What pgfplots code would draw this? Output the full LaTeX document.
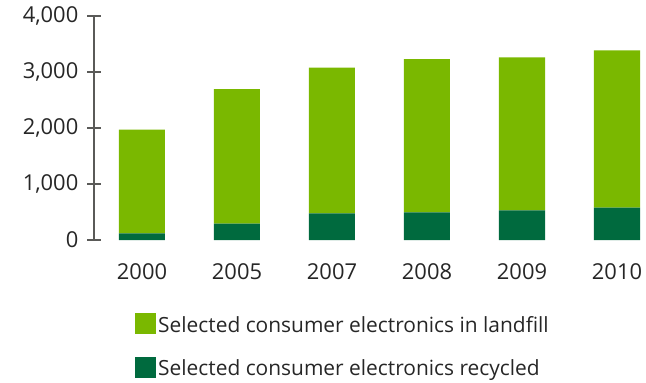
\documentclass[border=0pt]{standalone}
\usepackage{fontspec}
\setmainfont{Open Sans}
\usepackage{pgfplots}
\pgfplotsset{compat=1.18}
\definecolor{lightg}{HTML}{7AB800}
\definecolor{darkg}{HTML}{006A3E}
\definecolor{axisg}{HTML}{5A5A58}
\definecolor{txt}{HTML}{262626}
\begin{document}
\begin{tikzpicture}
\useasboundingbox (-94.5bp,-143bp) rectangle (551.5bp,240bp);
\begin{axis}[
  at={(0,0)}, anchor=south west,
  scale only axis, width=551bp, height=224bp,
  xmin=-0.5, xmax=5.3, ymin=0, ymax=4000,
  clip=false,
  ybar stacked, bar width=46bp,
  axis lines*=left,
  x axis line style={draw=none},
  y axis line style={draw=axisg, line width=2bp},
  xtick={0,1,2,3,4,5},
  xticklabels={2000,2005,2007,2008,2009,2010},
  xtick style={draw=none},
  ytick={0,1000,2000,3000,4000},
  ytick style={draw=axisg, line width=1.7bp},
  major tick length=14bp, tick align=center,
  scaled y ticks=false,
  /pgf/number format/assume math mode=true,
  /pgf/number format/1000 sep={,},
  tick label style={font=\fontsize{22}{26}\selectfont, text=txt},
  yticklabel style={anchor=east, inner sep=0pt, xshift=-9bp},
  xticklabel style={anchor=north, inner sep=0pt, yshift=-16bp},
  legend style={draw=none, fill=none, at={(0.0735,-0.3259)}, anchor=north west,
    inner sep=0pt, column sep=2bp, row sep=22.5bp,
    nodes={inner sep=0pt, anchor=base west, font=\fontsize{21}{25}\selectfont, text=txt}},
  legend cell align=left,
  reverse legend,
]
\addplot[fill=darkg, draw=none, legend image code/.code={\fill[darkg] (0bp,-2bp) rectangle (21bp,19bp);}]
  coordinates {(0,118) (1,291) (2,475) (3,493) (4,529) (5,577)};
\addplot[fill=lightg, draw=none, legend image code/.code={\fill[lightg] (0bp,-2bp) rectangle (21bp,19bp);}]
  coordinates {(0,1852) (1,2405) (2,2602) (3,2739) (4,2732) (5,2809)};
\legend{Selected consumer electronics recycled, Selected consumer electronics in landfill}
\end{axis}
\end{tikzpicture}
\end{document}
